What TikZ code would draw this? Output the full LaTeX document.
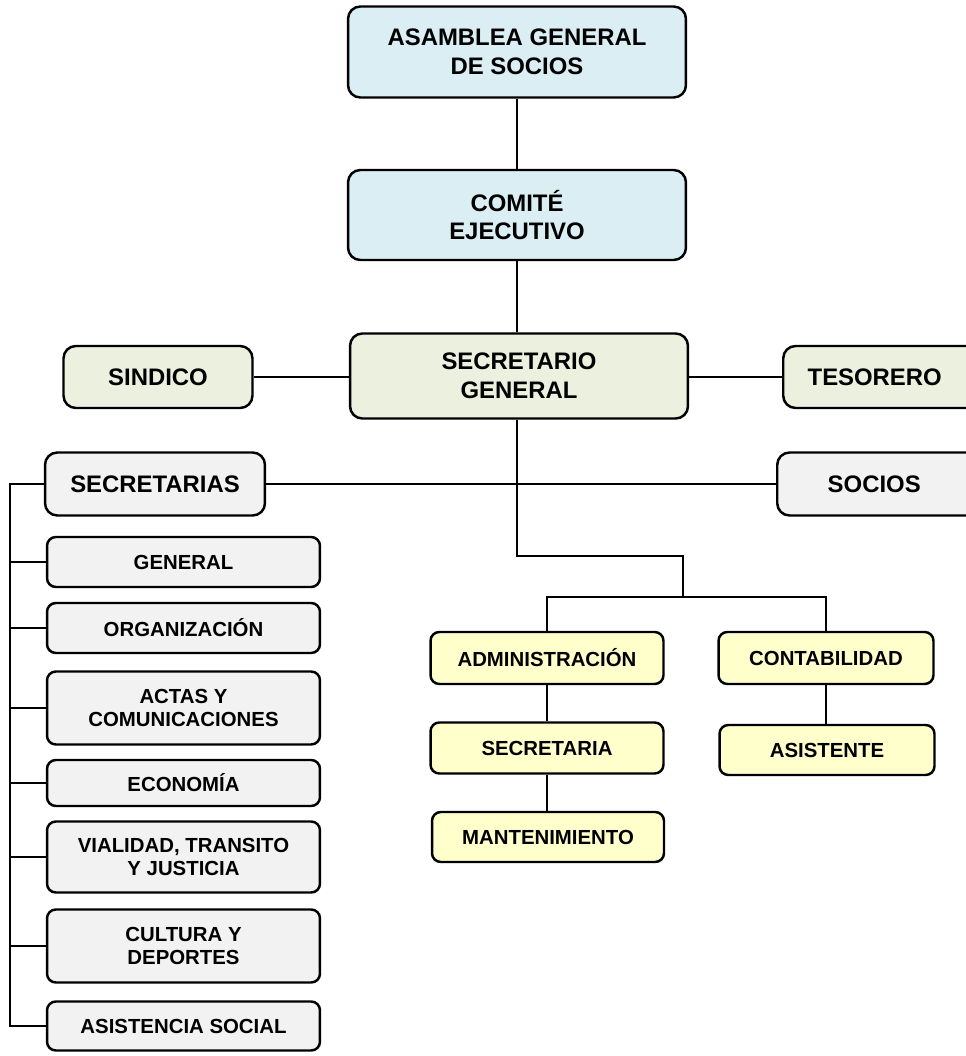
\documentclass[tikz,border=0pt]{standalone}
\usepackage{fontspec}
\setmainfont{Liberation Sans}
\usepackage{tikz}
\usetikzlibrary{positioning}

\definecolor{azulcaja}{HTML}{DAEEF3}
\definecolor{verdecaja}{HTML}{EBF1DE}
\definecolor{griscaja}{HTML}{F2F2F2}
\definecolor{amarillocaja}{HTML}{FFFFCC}

\tikzset{
caja/.style={draw, line width=1.4pt, rounded corners=7pt, inner sep=0pt, align=center, font=\fontsize{13.6}{16.4}\selectfont\bfseries},
chica/.style={caja, rounded corners=5pt, font=\fontsize{11.6}{13.6}\selectfont\bfseries},
linea/.style={line width=1.1pt}
}

\begin{document}
\begin{tikzpicture}[x=0.02cm, y=-0.02cm]
\useasboundingbox (0,0) rectangle (966,1056);
\node[caja, fill=azulcaja, minimum width=6.76cm, minimum height=1.82cm] (asamblea) at (517,52) {ASAMBLEA GENERAL\\DE SOCIOS};
\node[caja, fill=azulcaja, minimum width=6.76cm, minimum height=1.80cm] (comite) at (517,215) {COMITÉ\\EJECUTIVO};
\node[caja, fill=verdecaja, minimum width=6.76cm, minimum height=1.70cm] (secgral) at (519,376) {SECRETARIO\\GENERAL};
\node[caja, fill=verdecaja, minimum width=3.78cm, minimum height=1.24cm] (sindico) at (158,377) {SINDICO};
\node[caja, fill=verdecaja, minimum width=3.96cm, minimum height=1.24cm, anchor=west] (tesorero) at (782,377) {\hspace*{-0.3cm}TESORERO};
\node[caja, fill=griscaja, minimum width=4.4cm, minimum height=1.26cm] (secretarias) at (155,484) {SECRETARIAS};
\node[caja, fill=griscaja, minimum width=4.28cm, minimum height=1.26cm, anchor=west] (socios) at (776,484) {\hspace*{-0.4cm}SOCIOS};

\node[chica, fill=griscaja, minimum width=5.46cm, minimum height=1.0cm] (general) at (183.5,562) {GENERAL};
\node[chica, fill=griscaja, minimum width=5.46cm, minimum height=1.0cm] (organizacion) at (183.5,628) {ORGANIZACIÓN};
\node[chica, fill=griscaja, minimum width=5.46cm, minimum height=1.46cm] (actas) at (183.5,708) {ACTAS Y\\COMUNICACIONES};
\node[chica, fill=griscaja, minimum width=5.46cm, minimum height=0.92cm] (economia) at (183.5,783) {ECONOMÍA};
\node[chica, fill=griscaja, minimum width=5.46cm, minimum height=1.42cm] (vialidad) at (183.5,857) {VIALIDAD, TRANSITO\\Y JUSTICIA};
\node[chica, fill=griscaja, minimum width=5.46cm, minimum height=1.46cm] (cultura) at (183.5,946) {CULTURA Y\\DEPORTES};
\node[chica, fill=griscaja, minimum width=5.46cm, minimum height=0.98cm] (asistsocial) at (183.5,1026) {ASISTENCIA SOCIAL};

\node[chica, fill=amarillocaja, minimum width=4.66cm, minimum height=1.04cm] (admin) at (547,658) {ADMINISTRACIÓN};
\node[chica, fill=amarillocaja, minimum width=4.66cm, minimum height=1.02cm] (secretaria) at (547,748) {SECRETARIA};
\node[chica, fill=amarillocaja, minimum width=4.64cm, minimum height=1.0cm] (mantenimiento) at (548,837) {MANTENIMIENTO};
\node[chica, fill=amarillocaja, minimum width=4.30cm, minimum height=1.04cm] (contab) at (826,658) {CONTABILIDAD};
\node[chica, fill=amarillocaja, minimum width=4.30cm, minimum height=1.0cm] (asistente) at (827,750) {ASISTENTE};

\draw[linea] (asamblea) -- (comite);
\draw[linea] (comite) -- (comite.south |- secgral.north);
\draw[linea] (sindico.east) -- (sindico.east -| secgral.west);
\draw[linea] (tesorero.west -| secgral.east) -- (tesorero.west);
\draw[linea] (secretarias) -- (socios);
\coordinate (bajada) at (683,597);
\draw[linea] (secgral.south -| comite.south) |- (683,556) -- (bajada);
\draw[linea] (admin.north) |- (bajada) -| (contab.north);
\draw[linea] (admin) -- (secretaria);
\draw[linea] (secretaria) -- (secretaria |- mantenimiento.north);
\draw[linea] (contab) -- (contab |- asistente.north);

\coordinate (espina) at (10,484);
\draw[linea] (secretarias.west) -- (espina) |- (asistsocial.west);
\foreach \n in {general,organizacion,actas,economia,vialidad,cultura}
  \draw[linea] (espina |- \n.west) -- (\n.west);
\end{tikzpicture}
\end{document}
